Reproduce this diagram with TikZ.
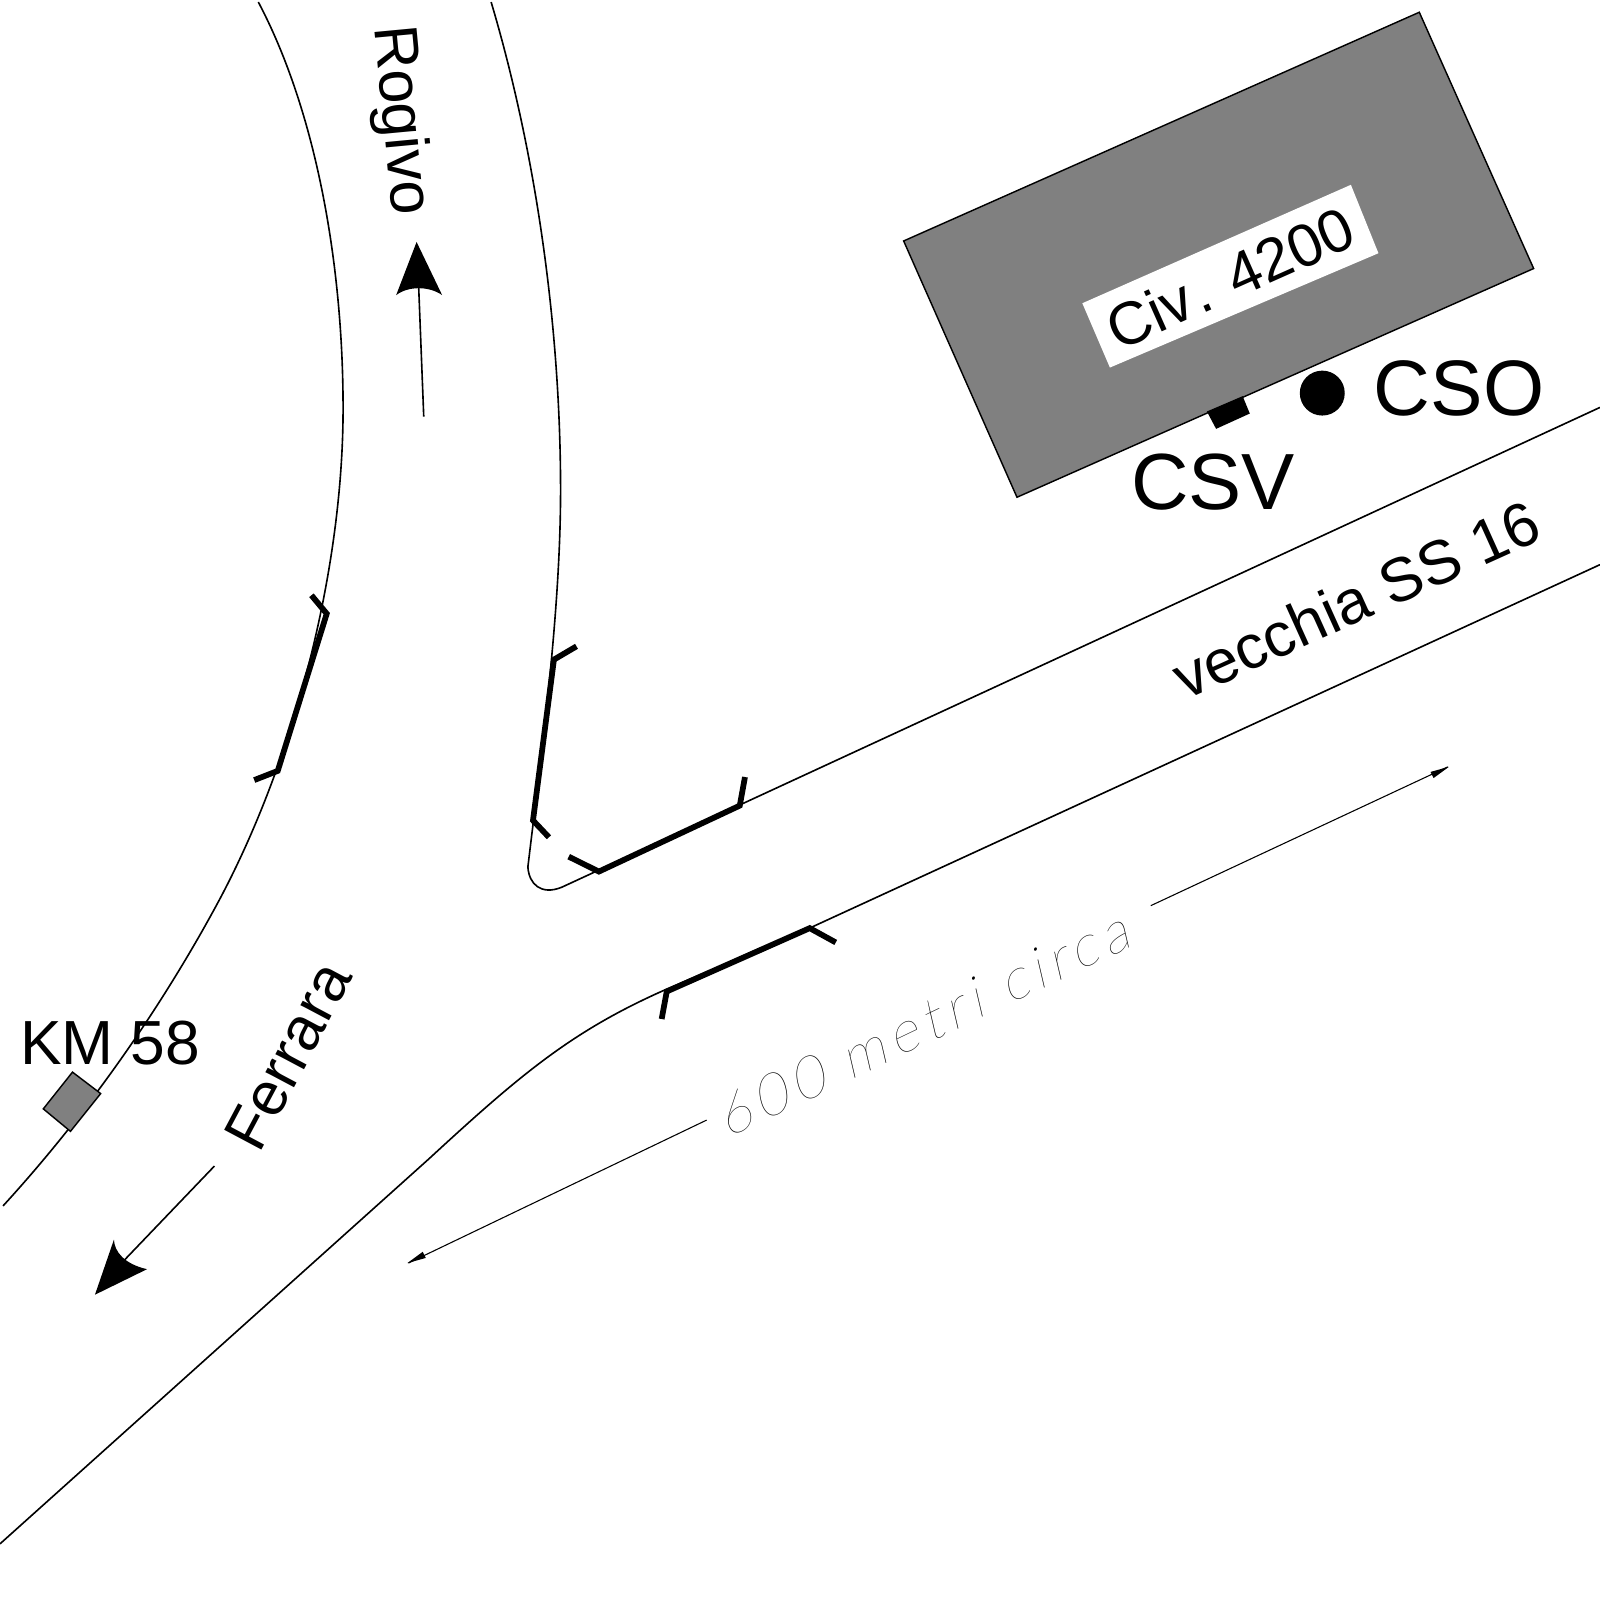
\documentclass[tikz,border=0pt]{standalone}
\usepackage{fontspec}
\setmainfont{Liberation Sans}
\newfontfamily\thinf{Lato}[UprightFont=* Hairline,FakeSlant=0.22,LetterSpace=12]
\newcommand{\szpx}[1]{\pgfmathparse{#1*0.2845}\fontsize{\pgfmathresult pt}{\pgfmathresult pt}\selectfont}
\tikzset{
  road/.style={draw=black,line width=0.45pt,line join=round},
  thick bar/.style={draw=black,line width=1.6pt,line join=miter},
  fine/.style={draw=black,line width=0.3pt},
  hatch/.style={draw=black,line width=0.4pt,fill=black!50!white},
  label/.style={inner sep=0pt,outer sep=0pt,text=black,anchor=center},
  headfill/.style={fill=black,draw=none}
}
\begin{document}
\begin{tikzpicture}[x=0.01cm,y=-0.01cm]
\useasboundingbox (0,0) rectangle (1567,1567);
% roads
\draw[road] (253,2) .. controls (310,110) and (336,260) .. (336,400) .. controls (336,555) and (290,740) .. (215,881) .. controls (170,965) and (100,1075) .. (3,1181);
\draw[road] (481,2) .. controls (525,150) and (549,320) .. (549,480) .. controls (549,600) and (530,740) .. (517,849) .. controls (518,866) and (530,877) .. (550,869) -- (1567,399);
\draw[road] (0,1512) -- (420,1135) .. controls (510,1052) and (560,1010) .. (650,970) -- (795,908) -- (1567,553);
% thick barriers
\draw[thick bar] (305,583) -- (320,601) -- (272,755) -- (249,764);
\draw[thick bar] (564.6,633) -- (542.5,646) -- (522,803.5) -- (537.6,820);
\draw[thick bar] (557,839) -- (586.5,853.6) -- (724.5,789) -- (729.6,761);
\draw[thick bar] (648,998) -- (653,971) -- (793,909) -- (818.5,923);
% direction arrows
\coordinate (rs) at (415,408);
\coordinate (re) at (410,280);
\draw[road] (rs) -- (re);
\fill[headfill] (408,237) -- (433,289) .. controls (420,280) and (400,280) .. (388,289) -- cycle;
\coordinate (fs) at (210,1142);
\coordinate (fe) at (120,1236);
\draw[road] (fs) -- (fe);
\fill[headfill] (93,1268) -- (111.6,1214) .. controls (112,1226) and (122,1238) .. (144,1243) -- cycle;
% building
\draw[hatch] (885,236) -- (1390,12) -- (1502,263) -- (996,487) -- cycle;
\fill[white] (1060,297) -- (1323,181) -- (1350,248) -- (1087,360) -- cycle;
\fill[black] (1182,403) -- (1217,388) -- (1224,405) -- (1191,420) -- cycle;
\fill[black] (1295,385) circle (22);
% km box
\draw[hatch] (71,1050) -- (98.6,1071) -- (69,1108) -- (42.4,1086) -- cycle;
% measure
\coordinate (a1) at (692,1097);
\coordinate (a2) at (400,1237);
\coordinate (b1) at (1127,887);
\coordinate (b2) at (1418,751);
\draw[fine] (a1) -- (a2);
\draw[fine] (b1) -- (b2);
\fill[headfill] (399,1237) -- (414,1226) -- (417,1232) -- cycle;
\fill[headfill] (1419,751) -- (1401,756) -- (1404,762) -- cycle;
% labels
\node[label,rotate=-84.6] (rogivo) at (391,118) {\szpx{60}Rogivo};
\node[label,rotate=62] (ferrara) at (282,1034) {\szpx{60}Ferrara};
\node[label] (km) at (108,1022) {\szpx{61}KM 58};
\node[label] (csv) at (1188,472) {\szpx{78}CSV};
\node[label] (cso) at (1429,380) {\szpx{77}CSO};
\node[label,rotate=24] (civ) at (1205,272) {\szpx{59}Civ\kern0.06em. 4200};
\node[label,rotate=24.3] (ss) at (1328,587) {\szpx{60.5}vecchia SS 16};
\node[label,rotate=25.5] (metri) at (903,1003) {\szpx{56}\thinf 600 metri circa};
\end{tikzpicture}
\end{document}
